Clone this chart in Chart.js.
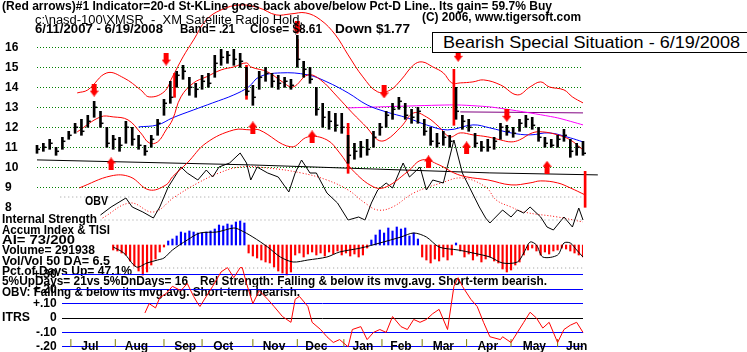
<!DOCTYPE html>
<html>
<head>
<meta charset="utf-8">
<title>XMSR - Bearish Special Situation</title>
<script src="https://cdn.jsdelivr.net/npm/chart.js@4.4.1/dist/chart.umd.min.js"></script>
<style>
  html, body { margin: 0; padding: 0; background: #fff; }
  body { position: relative; width: 747px; height: 352px; overflow: hidden; font-family: "Liberation Sans", Arial, sans-serif; }
  canvas { position: absolute; left: 0; }
  .t { position: absolute; white-space: nowrap; font-size: 12px; font-weight: bold; line-height: 10px; color: #000; transform-origin: 0 0; }
  .n { font-weight: normal; line-height: 12px; }
  .w { background: #fff; }
  #title { position: absolute; left: 432px; top: 32px; width: 320px; height: 19px; border: 1px solid #000; background: #fff; }
  #titleText { position: absolute; left: 10px; top: 1px; font-size: 17px; font-weight: normal; line-height: 17px; white-space: nowrap; transform-origin: 0 0; }
</style>
</head>
<body>
<canvas id="priceChart" width="747" height="250" style="top:0"></canvas>
<canvas id="accumChart" width="747" height="80" style="top:200px"></canvas>

<div class="t" data-w="550" style="left:2px;top:1px">(Red arrows)#1 Indicator=20-d St-KLine goes back above/below Pct-D Line.. Its gain= 59.7% Buy</div>
<div class="t n" data-w="268" style="left:35px;top:14px">c:\nasd-100\XMSR&nbsp; -&nbsp; XM Satellite Radio Hold.</div>
<div class="t" data-w="159" style="left:422px;top:12px">(C) 2006, www.tigersoft.com</div>
<div class="t" data-w="128" style="left:35px;top:24px">6/11/2007 - 6/19/2008</div>
<div class="t" data-w="55" style="left:180px;top:24px">Band= .21</div>
<div class="t" data-w="72" style="left:250px;top:24px">Close= $8.61</div>
<div class="t" data-w="75" style="left:335px;top:24px">Down $1.77</div>
<div id="title"><span id="titleText" data-w="297">Bearish Special Situation - 6/19/2008</span></div>

<div class="t" data-w="23" style="left:85px;top:196px">OBV</div>
<div class="t w" data-w="95" style="left:2px;top:214px">Internal Strength</div>
<div class="t w" data-w="108" style="left:2px;top:225px">Accum Index &amp; TISI</div>
<div class="t w" data-w="73" style="left:2px;top:235px">AI= 73/200</div>
<div class="t w" data-w="93" style="left:2px;top:245px">Volume= 291938</div>
<div class="t w" data-w="108" style="left:2px;top:256px">Vol/Vol 50 DA= 6.5</div>
<div class="t w" data-w="130" style="left:2px;top:266px">Pct.of Days Up= 47.1%</div>
<div class="t w" data-w="186" style="left:2px;top:276px">5%UpDays= 21vs 5%DnDays= 16</div>
<div class="t w" data-w="347" style="left:200px;top:276px">Rel Strength: Falling &amp; below its mvg.avg. Short-term bearish.</div>
<div class="t w" data-w="298" style="left:2px;top:287px">OBV: Falling &amp; below its mvg.avg. Short-term bearish.</div>
<div class="t" data-w="28" style="left:2px;top:312px">ITRS</div>

<canvas id="itrsChart" width="747" height="92" style="top:262px"></canvas>

<script>
// trading day index, 0 = 6/11/2007
const barDay = [0,3,6,9,12,15,18,21,24,27,30,33,36,39,42,45,48,51,54,57,60,63,66,69,72,75,78,81,84,87,
  90,93,96,99,102,105,108,111,114,117,120,123,126,129,132,135,138,141,144,147,150,153,156,159,162,165,168,171,174,177,
  180,183,186,189,192,195,198,201,204,207,210,213,216,219,222,225,228,231,234,237,240,243,246,249,252,255,258];
const barHigh = [11.1,11.2,11.4,11.0,11.5,11.8,12.2,12.4,12.6,13.3,12.8,12.0,11.6,11.5,12.3,12.0,11.6,11.1,11.6,12.4,
  13.4,14.3,14.8,15.1,14.5,14.2,14.6,14.7,15.6,15.9,15.8,15.9,15.7,15.0,14.1,14.8,15.0,14.7,14.6,14.5,
  14.4,16.6,15.3,15.0,14.0,13.2,12.8,12.7,12.7,11.6,11.2,11.3,11.4,11.8,12.2,12.8,13.2,13.5,13.2,12.9,
  13.0,12.4,12.0,11.7,11.8,11.6,14.0,12.6,12.4,11.7,11.3,11.4,11.5,12.2,12.1,12.0,12.4,12.6,12.5,12.0,
  11.5,11.4,11.6,11.9,11.4,11.2,11.3];
const barLow = [10.7,10.8,10.9,10.6,10.9,11.4,11.7,11.6,12.0,12.5,12.0,11.0,10.9,10.8,11.2,11.1,10.9,10.6,11.0,11.6,
  12.6,13.2,14.0,14.4,13.6,13.5,13.9,14.0,14.5,15.1,15.2,15.1,15.0,13.6,13.1,13.9,14.3,14.0,13.9,14.0,
  13.9,15.0,14.5,14.2,12.6,12.0,11.9,11.8,11.7,10.2,10.4,10.5,10.6,11.0,11.6,12.0,12.4,12.9,12.4,12.2,
  12.2,11.6,11.1,11.0,11.1,11.0,12.4,11.9,11.8,11.0,10.8,10.8,10.9,11.4,11.6,11.5,11.8,12.0,11.9,11.3,
  11.0,11.0,11.0,11.3,10.5,10.6,10.6];
const barClose = [10.9,11.0,11.2,10.8,11.3,11.6,12.0,11.8,12.3,13.0,12.2,11.2,11.4,11.1,12.0,11.4,11.1,10.8,11.4,12.2,
  13.2,13.5,14.6,14.8,14.0,13.9,14.3,14.2,15.2,15.5,15.6,15.4,15.3,13.8,13.5,14.5,14.7,14.3,14.2,14.3,
  14.1,15.4,14.9,14.4,12.9,12.5,12.3,12.1,12.0,10.6,10.8,11.0,10.9,11.5,12.0,12.6,12.9,13.3,12.6,12.5,
  12.8,11.8,11.3,11.2,11.5,11.3,12.8,12.3,12.0,11.2,11.0,11.0,11.3,12.0,11.8,11.7,12.2,12.4,12.1,11.5,
  11.2,11.1,11.4,11.6,10.8,11.0,10.7];

// wide-range days drawn in red (last one is 6/19/2008, close 8.61)
const sigDay = [65, 99, 123, 147, 197, 259];
const sigHigh = [14.7, 15.1, 16.4, 12.2, 14.9, 9.8];
const sigLow = [13.5, 13.4, 15.4, 9.7, 12.1, 8.0];

const downDay = [27, 61, 123, 164, 199, 222];
const downPrice = [13.86, 15.41, 16.97, 13.77, 15.6, 12.6];
const upDay = [35, 102, 130, 185, 203, 241];
const upPrice = [10.17, 11.97, 11.52, 10.27, 10.97, 10.0];

const upperDay = [19,24,33,41,49,53,60,64,69,74,80,87,96,105,113,120,127,134,141,147,
  154,161,167,172,178,182,187,192,196,200,206,211,219,227,233,238,242,249,253,258];
const upperVal = [13.72,13.87,14.72,14.47,13.87,13.52,13.77,14.52,15.52,16.37,17.37,17.87,18.12,17.97,17.62,17.67,17.72,17.37,16.62,15.62,
  14.52,13.77,13.87,14.37,15.12,15.27,15.02,14.72,14.22,14.22,14.27,14.37,14.12,13.62,14.02,14.27,14.02,13.87,13.52,13.22];
const midDay = [19,30,36,43,49,53,57,61,64,68,74,80,87,93,99,101,109,116,121,128,
  134,142,149,156,161,165,172,178,184,190,195,200,206,213,219,224,228,234,239,246,252,258];
const midVal = [11.77,12.52,12.52,12.37,11.72,11.22,11.27,11.87,12.37,13.52,14.22,14.52,14.87,15.02,15.22,15.02,14.77,14.27,14.02,14.62,
  14.37,13.52,12.72,11.97,11.37,11.37,12.02,12.72,12.52,12.02,11.52,11.72,11.62,11.52,11.37,11.27,11.37,11.72,11.77,11.62,11.37,10.87];
const lowDay = [20,35,44,53,61,64,71,80,93,101,105,120,128,137,143,149,159,165,175,182,
  190,197,203,213,224,233,238,246,252,259];
const lowVal = [8.97,9.57,9.52,8.87,9.12,9.52,10.22,11.22,11.87,11.87,11.87,11.02,11.52,11.37,10.72,9.87,9.02,9.02,9.77,10.37,
  10.12,9.72,9.52,9.37,9.12,9.22,9.32,9.22,8.97,8.62];
const ma50Day = [48,57,64,74,83,93,100,105,115,128,137,147,156,165,175,184,194,206,214,224,233,242,252,258];
const ma50Val = [12.02,12.12,12.47,12.87,13.22,13.62,14.02,14.52,14.72,14.62,14.27,13.72,13.12,12.77,12.47,12.12,11.87,12.12,11.97,11.72,11.62,11.72,11.47,11.27];
const ma200Day = [147, 197, 214, 230, 246, 258];
const ma200Val = [12.97, 13.12, 13.02, 12.77, 12.47, 12.12];
const flatDay = [200, 258];
const flatVal = [12.77, 12.72];
const trendDay = [0, 101, 214, 265];
const trendVal = [10.37, 10.12, 9.72, 9.62];

const obvDay = [30,35,42,45,50,55,58,62,65,68,71,76,80,83,86,91,96,99,101,104,109,114,119,122,125,129,132,137,142,147,
  152,155,158,161,165,168,173,176,181,184,187,192,197,201,205,209,212,214,220,224,227,230,233,238,241,244,249,253,256,258,259];
const obvVal = [5,13,22,13,8,2,13,33,43,53,47,40,50,43,53,57,67,57,40,53,47,43,28,47,60,47,47,27,17,0,
  3,0,17,30,37,32,57,43,53,30,40,37,80,47,30,13,2,-3,10,3,10,7,13,3,-7,-10,3,-7,12,0,-23];
const obvMaDay = [31,44,55,65,76,86,96,109,125,137,147,155,161,168,178,191,201,212,217,224,230,246,258];
const obvMaVal = [2,17,8,23,37,47,53,52,47,40,30,17,10,13,27,37,42,33,20,13,8,3,-2];
const obvBaseDay = [11, 258];
const obvBaseVal = [23, 23];

const accDay = [36,38,40,42,44,46,48,50,52,54,56,58,60,62,64,66,68,70,72,74,76,78,80,82,84,86,88,90,92,94,
  96,98,100,102,104,106,108,110,112,114,116,118,120,122,124,126,128,130,132,134,136,138,140,142,144,146,148,150,152,154,
  156,158,160,162,164,166,168,170,172,174,176,178,180,182,184,186,188,190,192,194,196,198,200,202,204,206,208,210,212,214,
  216,218,220,222,224,226,228,230,232,234,236,238,240,242,244,246,248,250,252,254,256,258];
const accVal = [-5,-6,-8,-10,-16,-21,-26,-30,-27,-20,-14,-7,-2,4,6,9,13,12,14,13,12,12,13,14,16,20,19,21,20,23,
  24,22,-8,-11,-13,-15,-17,-18,-22,-26,-28,-30,-27,-10,-8,-12,-9,-7,-10,-8,-11,-7,-9,-6,-10,-8,-11,-9,-12,-10,
  -3,5,10,15,12,17,14,18,16,17,9,12,6,-12,-15,-18,-14,-16,-12,-15,-10,2,-6,-12,-9,-15,-11,-17,-14,-12,
  -16,-18,-24,-27,-25,-20,-17,-10,-5,-3,-6,-10,-7,-9,-6,-5,-3,-4,-6,-8,-10,-12];
const tisiDay = [36,41,47,52,57,60,64,71,77,85,93,96,102,109,115,121,128,137,143,153,
  162,172,178,184,190,199,206,214,220,227,230,233,236,239,246,249,252,255,258];
const tisiVal = [-2,-8,-22,-18,-15,-13,-5,5,12,13,17,15,8,-2,-12,-17,-15,-12,-7,-3,
  2,8,12,8,-2,-5,-8,-12,-18,-17,-8,3,0,-12,-10,2,2,-5,-12];
const accTopDay = [30, 258], accTopVal = [25, 25];
const accBotDay = [36, 258], accBotVal = [-23, -23];

const itrsDay = [51,53,56,58,61,64,68,71,74,76,77,80,83,87,90,93,96,97,99,102,105,109,112,116,120,122,124,128,130,134,
  137,140,143,147,149,153,156,159,162,165,168,172,175,178,181,184,187,190,194,197,199,201,205,208,211,214,219,220,224,227,
  230,233,236,239,242,246,249,252,255,258,259];
const itrsVal = [0.035,0.10,0.07,0.14,0.17,0.22,0.19,0.24,0.15,0.10,0.08,0.15,0.22,0.32,0.35,0.28,0.35,0.35,0.24,0.10,
  0.19,0.13,0.08,0.01,-0.03,0.13,0.15,0.08,-0.03,-0.08,-0.13,-0.17,-0.15,-0.20,-0.08,-0.06,-0.15,-0.10,-0.08,-0.10,
  0.01,-0.06,-0.08,-0.01,-0.03,-0.01,0.03,0.06,-0.08,0.22,0.28,0.22,0.13,0.08,-0.03,-0.13,-0.15,-0.13,-0.17,-0.10,
  -0.03,0.04,0.00,-0.07,-0.03,-0.17,-0.08,-0.05,-0.03,-0.10,-0.17];

const priceTicks = [8, 9, 10, 11, 12, 13, 14, 15, 16];
const itrsTicks = [-0.2, -0.1, 0, 0.1, 0.2, 0.3];
const itrsLabels = ['-.20', '-.10', '0', '+.10', '+.20', '+.30'];
const monthTickDay = [16, 37, 60, 78, 102, 123, 145, 163, 182, 203, 224, 246];
const monthTickLevel = -0.174;
const monthLabelDay = [25, 47, 70, 88, 112, 132, 154, 172, 192, 213, 235, 255];
const monthNames = ['Jul', 'Aug', 'Sep', 'Oct', 'Nov', 'Dec', 'Jan', 'Feb', 'Mar', 'Apr', 'May', 'Jun'];

const RED = '#ff0000', BLUE = '#0000ff', BLACK = '#000000';
const tickFont = { family: 'Liberation Sans', size: 12, weight: 'bold' };

function pts(days, vals) {
    return days.map((d, i) => ({ x: d, y: vals[i] }));
}
function ranges(days, lo, hi) {
    return days.map((d, i) => ({ x: d, y: [lo[i], hi[i]] }));
}
function line(days, vals, color, extra) {
    return Object.assign({
        type: 'line', data: pts(days, vals), borderColor: color, borderWidth: 1,
        pointRadius: 0, tension: 0.4, fill: false, clip: false
    }, extra || {});
}
// axes take no room and add no padding, labels are drawn mirrored
function flat(s) {
    if (s.isHorizontal()) s.height = 0; else s.width = 0;
    s.paddingTop = 0; s.paddingBottom = 0; s.paddingLeft = 0; s.paddingRight = 0;
}

// little red arrow markers
function makeArrow(up) {
    const c = document.createElement('canvas');
    c.width = 9; c.height = 13;
    const g = c.getContext('2d');
    g.fillStyle = RED;
    g.beginPath();
    if (up) {
        g.moveTo(4.5, 0); g.lineTo(9, 6); g.lineTo(0, 6);
        g.closePath(); g.fill();
        g.fillRect(2, 6, 5, 7);
    } else {
        g.fillRect(2, 0, 5, 7);
        g.moveTo(0, 7); g.lineTo(9, 7); g.lineTo(4.5, 13);
        g.closePath(); g.fill();
    }
    return c;
}

const common = {
    responsive: false,
    animation: false,
    events: [],
    plugins: { legend: { display: false }, tooltip: { enabled: false } }
};

// price panel (with OBV underneath)
new Chart(document.getElementById('priceChart'), {
    type: 'bar',
    data: {
        datasets: [
            { type: 'scatter', data: pts(downDay, downPrice), pointStyle: makeArrow(false), pointRadius: 6, clip: false },
            { type: 'scatter', data: pts(upDay, upPrice), pointStyle: makeArrow(true), pointRadius: 6, clip: false },
            { type: 'scatter', data: pts(barDay, barClose), pointStyle: 'dash', pointRadius: 3,
              borderColor: BLACK, borderWidth: 1.5, clip: false },
            { type: 'bar', data: ranges(barDay, barLow, barHigh), backgroundColor: BLACK,
              barThickness: 2, grouped: false, clip: false },
            { type: 'bar', data: ranges(sigDay, sigLow, sigHigh), backgroundColor: RED,
              barThickness: 2, grouped: false, clip: false },
            line(upperDay, upperVal, RED),
            line(midDay, midVal, RED),
            line(lowDay, lowVal, RED),
            line(ma50Day, ma50Val, BLUE),
            line(ma200Day, ma200Val, '#ff00ff', { tension: 0.2 }),
            line(flatDay, flatVal, '#800080', { tension: 0 }),
            line(trendDay, trendVal, BLACK, { tension: 0 }),
            line(obvDay, obvVal, BLACK, { yAxisID: 'yObv', tension: 0 }),
            line(obvMaDay, obvMaVal, RED, { yAxisID: 'yObv', borderDash: [1, 2] }),
            line(obvBaseDay, obvBaseVal, '#999999', { yAxisID: 'yObv', tension: 0, borderDash: [1, 3] })
        ]
    },
    options: Object.assign({}, common, {
        layout: { autoPadding: false, padding: { left: 37, right: 164, top: 0, bottom: 0 } },
        scales: {
            x: { type: 'linear', min: 0, max: 258, offset: false, display: false },
            y: {
                position: 'left', min: 5.865, max: 18.365,
                afterBuildTicks: s => { s.ticks = priceTicks.map(v => ({ value: v })); },
                afterFit: flat,
                ticks: { mirror: true, crossAlign: 'near', padding: -32, autoSkip: false, color: BLACK, font: tickFont,
                         callback: v => String(v) },
                grid: { drawTicks: false, lineWidth: 1,
                        color: c => (c.tick && c.tick.value >= 9) ? '#008000' : 'rgba(0,0,0,0)' },
                border: { display: false, dash: [1, 2] }
            },
            yObv: { position: 'left', min: -30, max: 220, display: false }
        }
    })
});

// accumulation index histogram + TISI
new Chart(document.getElementById('accumChart'), {
    type: 'bar',
    data: {
        datasets: [
            line(tisiDay, tisiVal, BLACK, { tension: 0.3 }),
            { type: 'bar', data: pts(accDay, accVal), barThickness: 1.5, grouped: false,
              backgroundColor: accVal.map(v => v >= 0 ? BLUE : RED) },
            line(accTopDay, accTopVal, '#999999', { tension: 0, borderDash: [1, 3] }),
            line(accBotDay, accBotVal, '#999999', { tension: 0, borderDash: [1, 3] })
        ]
    },
    options: Object.assign({}, common, {
        layout: { autoPadding: false, padding: { left: 37, right: 164, top: 0, bottom: 0 } },
        scales: {
            x: { type: 'linear', min: 0, max: 258, offset: false, display: false },
            y: { min: -35, max: 45, display: false }
        }
    })
});

// ITRS panel with month axis
new Chart(document.getElementById('itrsChart'), {
    type: 'line',
    data: {
        datasets: [
            line(itrsDay, itrsVal, RED, { tension: 0 }),
            { type: 'scatter', data: monthTickDay.map(d => ({ x: d, y: monthTickLevel })),
              pointStyle: 'line', rotation: 90, pointRadius: 4, borderColor: '#808000', borderWidth: 1 }
        ]
    },
    options: Object.assign({}, common, {
        layout: { autoPadding: false, padding: { left: 62, right: 164, top: 0, bottom: 0 } },
        scales: {
            x: {
                type: 'linear', position: 'bottom', min: 11.813, max: 258, offset: false,
                afterBuildTicks: s => { s.ticks = monthLabelDay.map(v => ({ value: v })); },
                afterFit: flat,
                ticks: { mirror: true, padding: 0, autoSkip: false, maxRotation: 0, color: BLACK, font: tickFont,
                         callback: (v, i) => monthNames[i] },
                grid: { display: false, drawTicks: false },
                border: { display: false }
            },
            y: {
                position: 'left', min: -0.25, max: 0.3889,
                afterBuildTicks: s => { s.ticks = itrsTicks.map(v => ({ value: v })); },
                afterFit: flat,
                ticks: { mirror: true, crossAlign: 'far', padding: -29, autoSkip: false, color: BLACK, font: tickFont,
                         callback: (v, i) => itrsLabels[i] },
                grid: { drawTicks: false, lineWidth: 1,
                        color: c => (c.tick && c.tick.value === 0) ? BLACK : BLUE },
                border: { display: false }
            }
        }
    })
});

// squeeze the text to the widths seen in the picture
document.querySelectorAll('[data-w]').forEach(el => {
    const w = el.getBoundingClientRect().width;
    if (w > 0) el.style.transform = 'scaleX(' + (el.dataset.w / w) + ')';
});
</script>
</body>
</html>
